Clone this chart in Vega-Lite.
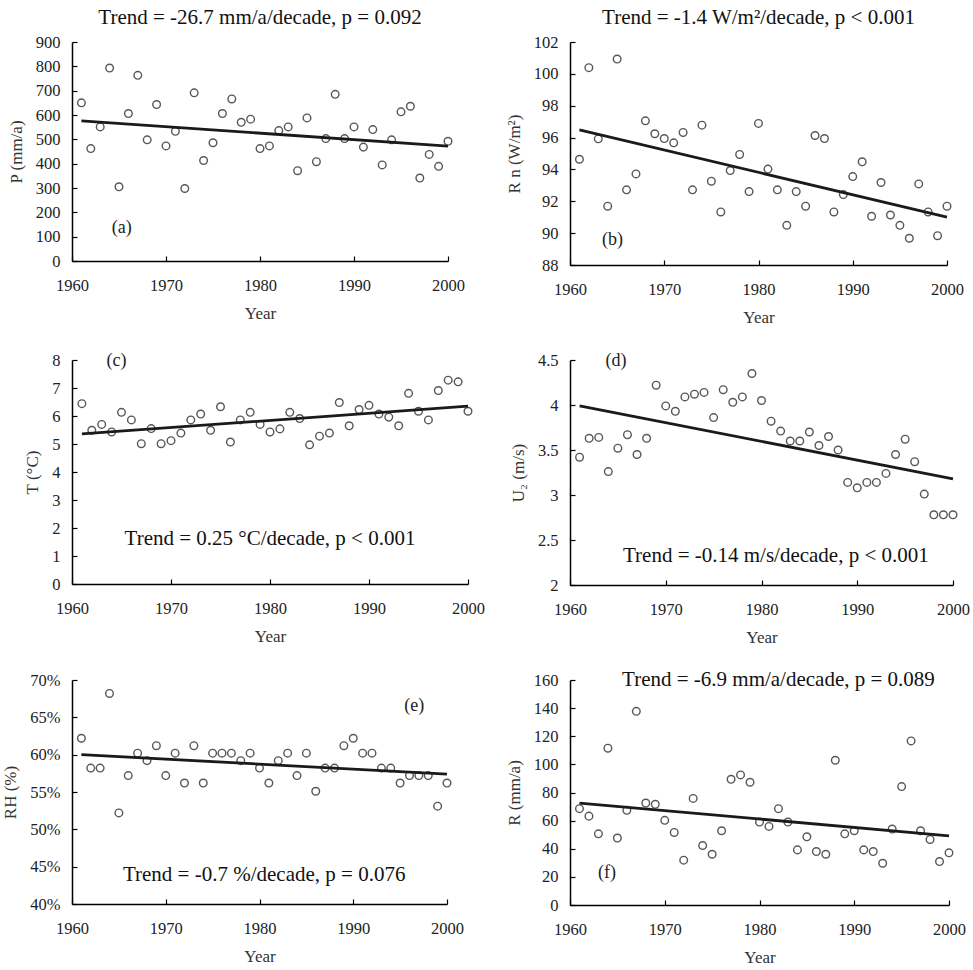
{
"$schema": "https://vega.github.io/schema/vega-lite/v6.json",
"padding": {"left": 1, "top": 7, "right": 0, "bottom": 1},
"background": "white",
"datasets": {
"P": [{"year":1961,"v":650},{"year":1962,"v":462},{"year":1963,"v":551},{"year":1964,"v":793},{"year":1965,"v":305},{"year":1966,"v":606},{"year":1967,"v":763},{"year":1968,"v":498},{"year":1969,"v":643},{"year":1970,"v":473},{"year":1971,"v":533},{"year":1972,"v":298},{"year":1973,"v":691},{"year":1974,"v":413},{"year":1975,"v":486},{"year":1976,"v":606},{"year":1977,"v":666},{"year":1978,"v":570},{"year":1979,"v":583},{"year":1980,"v":462},{"year":1981,"v":473},{"year":1982,"v":536},{"year":1983,"v":551},{"year":1984,"v":371},{"year":1985,"v":588},{"year":1986,"v":408},{"year":1987,"v":503},{"year":1988,"v":685},{"year":1989,"v":503},{"year":1990,"v":551},{"year":1991,"v":468},{"year":1992,"v":540},{"year":1993,"v":395},{"year":1994,"v":498},{"year":1995,"v":613},{"year":1996,"v":636},{"year":1997,"v":341},{"year":1998,"v":438},{"year":1999,"v":389},{"year":2000,"v":492}],
"P_t": [{"year":1961,"v":576},{"year":2000,"v":472}],
"Rn": [{"year":1961,"v":94.64},{"year":1962,"v":100.39},{"year":1963,"v":95.92},{"year":1964,"v":91.69},{"year":1965,"v":100.93},{"year":1966,"v":92.72},{"year":1967,"v":93.72},{"year":1968,"v":97.05},{"year":1969,"v":96.24},{"year":1970,"v":95.94},{"year":1971,"v":95.67},{"year":1972,"v":96.32},{"year":1973,"v":92.72},{"year":1974,"v":96.78},{"year":1975,"v":93.26},{"year":1976,"v":91.33},{"year":1977,"v":93.93},{"year":1978,"v":94.94},{"year":1979,"v":92.61},{"year":1980,"v":96.89},{"year":1981,"v":94.02},{"year":1982,"v":92.72},{"year":1983,"v":90.49},{"year":1984,"v":92.61},{"year":1985,"v":91.69},{"year":1986,"v":96.13},{"year":1987,"v":95.94},{"year":1988,"v":91.33},{"year":1989,"v":92.42},{"year":1990,"v":93.55},{"year":1991,"v":94.48},{"year":1992,"v":91.06},{"year":1993,"v":93.18},{"year":1994,"v":91.14},{"year":1995,"v":90.49},{"year":1996,"v":89.68},{"year":1997,"v":93.09},{"year":1998,"v":91.33},{"year":1999,"v":89.84},{"year":2000,"v":91.69}],
"Rn_t": [{"year":1961,"v":96.49},{"year":2000,"v":91.0}],
"T": [{"year":1961,"v":6.44},{"year":1962,"v":5.49},{"year":1963,"v":5.70},{"year":1964,"v":5.43},{"year":1965,"v":6.13},{"year":1966,"v":5.86},{"year":1967,"v":5.01},{"year":1968,"v":5.55},{"year":1969,"v":5.01},{"year":1970,"v":5.12},{"year":1971,"v":5.39},{"year":1972,"v":5.86},{"year":1973,"v":6.07},{"year":1974,"v":5.49},{"year":1975,"v":6.33},{"year":1976,"v":5.07},{"year":1977,"v":5.86},{"year":1978,"v":6.13},{"year":1979,"v":5.70},{"year":1980,"v":5.43},{"year":1981,"v":5.54},{"year":1982,"v":6.13},{"year":1983,"v":5.91},{"year":1984,"v":4.97},{"year":1985,"v":5.28},{"year":1986,"v":5.39},{"year":1987,"v":6.48},{"year":1988,"v":5.65},{"year":1989,"v":6.23},{"year":1990,"v":6.38},{"year":1991,"v":6.07},{"year":1992,"v":5.96},{"year":1993,"v":5.65},{"year":1994,"v":6.81},{"year":1995,"v":6.17},{"year":1996,"v":5.86},{"year":1997,"v":6.91},{"year":1998,"v":7.28},{"year":1999,"v":7.22},{"year":2000,"v":6.17}],
"T_t": [{"year":1961,"v":5.36},{"year":2000,"v":6.35}],
"U2": [{"year":1961,"v":3.42},{"year":1962,"v":3.63},{"year":1963,"v":3.64},{"year":1964,"v":3.26},{"year":1965,"v":3.52},{"year":1966,"v":3.67},{"year":1967,"v":3.45},{"year":1968,"v":3.63},{"year":1969,"v":4.22},{"year":1970,"v":3.99},{"year":1971,"v":3.93},{"year":1972,"v":4.09},{"year":1973,"v":4.12},{"year":1974,"v":4.14},{"year":1975,"v":3.86},{"year":1976,"v":4.17},{"year":1977,"v":4.03},{"year":1978,"v":4.09},{"year":1979,"v":4.35},{"year":1980,"v":4.05},{"year":1981,"v":3.82},{"year":1982,"v":3.71},{"year":1983,"v":3.60},{"year":1984,"v":3.60},{"year":1985,"v":3.70},{"year":1986,"v":3.55},{"year":1987,"v":3.65},{"year":1988,"v":3.50},{"year":1989,"v":3.14},{"year":1990,"v":3.08},{"year":1991,"v":3.14},{"year":1992,"v":3.14},{"year":1993,"v":3.24},{"year":1994,"v":3.45},{"year":1995,"v":3.62},{"year":1996,"v":3.37},{"year":1997,"v":3.01},{"year":1998,"v":2.78},{"year":1999,"v":2.78},{"year":2000,"v":2.78}],
"U2_t": [{"year":1961,"v":3.99},{"year":2000,"v":3.18}],
"RH": [{"year":1961,"v":0.622},{"year":1962,"v":0.582},{"year":1963,"v":0.582},{"year":1964,"v":0.682},{"year":1965,"v":0.522},{"year":1966,"v":0.572},{"year":1967,"v":0.602},{"year":1968,"v":0.592},{"year":1969,"v":0.612},{"year":1970,"v":0.572},{"year":1971,"v":0.602},{"year":1972,"v":0.562},{"year":1973,"v":0.612},{"year":1974,"v":0.562},{"year":1975,"v":0.602},{"year":1976,"v":0.602},{"year":1977,"v":0.602},{"year":1978,"v":0.592},{"year":1979,"v":0.602},{"year":1980,"v":0.582},{"year":1981,"v":0.562},{"year":1982,"v":0.592},{"year":1983,"v":0.602},{"year":1984,"v":0.572},{"year":1985,"v":0.602},{"year":1986,"v":0.551},{"year":1987,"v":0.582},{"year":1988,"v":0.582},{"year":1989,"v":0.612},{"year":1990,"v":0.622},{"year":1991,"v":0.602},{"year":1992,"v":0.602},{"year":1993,"v":0.582},{"year":1994,"v":0.582},{"year":1995,"v":0.562},{"year":1996,"v":0.572},{"year":1997,"v":0.572},{"year":1998,"v":0.572},{"year":1999,"v":0.531},{"year":2000,"v":0.562}],
"RH_t": [{"year":1961,"v":0.600},{"year":2000,"v":0.574}],
"R": [{"year":1961,"v":68.5},{"year":1962,"v":63.2},{"year":1963,"v":50.6},{"year":1964,"v":111.5},{"year":1965,"v":47.6},{"year":1966,"v":67.3},{"year":1967,"v":137.7},{"year":1968,"v":72.5},{"year":1969,"v":71.6},{"year":1970,"v":60.2},{"year":1971,"v":51.6},{"year":1972,"v":31.9},{"year":1973,"v":75.8},{"year":1974,"v":42.3},{"year":1975,"v":36.1},{"year":1976,"v":52.8},{"year":1977,"v":89.4},{"year":1978,"v":92.5},{"year":1979,"v":87.3},{"year":1980,"v":59.0},{"year":1981,"v":55.9},{"year":1982,"v":68.5},{"year":1983,"v":59.0},{"year":1984,"v":39.2},{"year":1985,"v":48.5},{"year":1986,"v":38.0},{"year":1987,"v":36.1},{"year":1988,"v":102.9},{"year":1989,"v":50.6},{"year":1990,"v":52.8},{"year":1991,"v":39.2},{"year":1992,"v":38.0},{"year":1993,"v":29.7},{"year":1994,"v":54.0},{"year":1995,"v":84.2},{"year":1996,"v":116.7},{"year":1997,"v":52.8},{"year":1998,"v":46.6},{"year":1999,"v":30.9},{"year":2000,"v":37.1}],
"R_t": [{"year":1961,"v":72.5},{"year":2000,"v":49.2}]
},
"columns": 2,
"align": "each",
"bounds": "flush",
"spacing": {"row": 95, "column": 102},
"concat": [
{
 "width": 376, "height": 219,
 "title": {"text": "Trend = -26.7 mm/a/decade, p = 0.092"},
 "layer": [
  {"encoding": {
    "x": {"field": "year", "type": "quantitative", "scale": {"domain": [1960, 2000], "nice": false}, "axis": {"values": [1960,1970,1980,1990,2000], "format": "d", "title": "Year"}},
    "y": {"field": "v", "type": "quantitative", "scale": {"domain": [0, 900], "nice": false, "zero": false}, "axis": {"values": [0,100,200,300,400,500,600,700,800,900], "title": "P (mm/a)"}}},
   "layer": [
    {"data": {"name": "P"}, "mark": {"type": "point"}},
    {"data": {"name": "P_t"}, "mark": {"type": "line", "color": "#1a1a1a", "strokeWidth": 2.8}}
   ]},
  {"data": {"values": [{}]}, "mark": {"type": "text", "text": "(a)", "fontSize": 18, "color": "#222"},
   "encoding": {
    "x": {"datum": 1965.3, "type": "quantitative", "axis": {"values": [1960,1970,1980,1990,2000], "format": "d", "title": "Year"}},
    "y": {"datum": 135, "type": "quantitative", "axis": {"values": [0,100,200,300,400,500,600,700,800,900], "title": "P (mm/a)"}}}}
 ]
},
{
 "width": 377, "height": 223,
 "title": {"text": "Trend = -1.4 W/m²/decade, p < 0.001"},
 "layer": [
  {"encoding": {
    "x": {"field": "year", "type": "quantitative", "scale": {"domain": [1960, 2000], "nice": false}, "axis": {"values": [1960,1970,1980,1990,2000], "format": "d", "title": "Year"}},
    "y": {"field": "v", "type": "quantitative", "scale": {"domain": [88, 102], "nice": false, "zero": false}, "axis": {"values": [88,90,92,94,96,98,100,102], "title": "R n (W/m²)"}}},
   "layer": [
    {"data": {"name": "Rn"}, "mark": {"type": "point"}},
    {"data": {"name": "Rn_t"}, "mark": {"type": "line", "color": "#1a1a1a", "strokeWidth": 2.8}}
   ]},
  {"data": {"values": [{}]}, "mark": {"type": "text", "text": "(b)", "fontSize": 18, "color": "#222"},
   "encoding": {
    "x": {"datum": 1964.5, "type": "quantitative", "axis": {"values": [1960,1970,1980,1990,2000], "format": "d", "title": "Year"}},
    "y": {"datum": 89.6, "type": "quantitative", "axis": {"values": [88,90,92,94,96,98,100,102], "title": "R n (W/m²)"}}}}
 ]
},
{
 "width": 396, "height": 224,
 "layer": [
  {"encoding": {
    "x": {"field": "year", "type": "quantitative", "scale": {"domain": [1960, 2000], "nice": false}, "axis": {"values": [1960,1970,1980,1990,2000], "format": "d", "title": "Year"}},
    "y": {"field": "v", "type": "quantitative", "scale": {"domain": [0, 8], "nice": false, "zero": false}, "axis": {"values": [0,1,2,3,4,5,6,7,8], "title": "T (°C)"}}},
   "layer": [
    {"data": {"name": "T"}, "mark": {"type": "point"}},
    {"data": {"name": "T_t"}, "mark": {"type": "line", "color": "#1a1a1a", "strokeWidth": 2.8}}
   ]},
  {"data": {"values": [{}]}, "mark": {"type": "text", "text": "(c)", "fontSize": 18, "color": "#222"},
   "encoding": {
    "x": {"datum": 1964.5, "type": "quantitative", "axis": {"values": [1960,1970,1980,1990,2000], "format": "d", "title": "Year"}},
    "y": {"datum": 7.95, "type": "quantitative", "axis": {"values": [0,1,2,3,4,5,6,7,8], "title": "T (°C)"}}}},
  {"data": {"values": [{}]}, "mark": {"type": "text", "text": "Trend = 0.25 °C/decade, p < 0.001", "fontSize": 21, "color": "#111"},
   "encoding": {
    "x": {"datum": 1980, "type": "quantitative", "axis": {"values": [1960,1970,1980,1990,2000], "format": "d", "title": "Year"}},
    "y": {"datum": 1.6, "type": "quantitative", "axis": {"values": [0,1,2,3,4,5,6,7,8], "title": "T (°C)"}}}}
 ]
},
{
 "width": 383, "height": 225,
 "layer": [
  {"encoding": {
    "x": {"field": "year", "type": "quantitative", "scale": {"domain": [1960, 2000], "nice": false}, "axis": {"values": [1960,1970,1980,1990,2000], "format": "d", "title": "Year"}},
    "y": {"field": "v", "type": "quantitative", "scale": {"domain": [2, 4.5], "nice": false, "zero": false}, "axis": {"values": [2,2.5,3,3.5,4,4.5], "format": "~g", "title": "U₂ (m/s)"}}},
   "layer": [
    {"data": {"name": "U2"}, "mark": {"type": "point"}},
    {"data": {"name": "U2_t"}, "mark": {"type": "line", "color": "#1a1a1a", "strokeWidth": 2.8}}
   ]},
  {"data": {"values": [{}]}, "mark": {"type": "text", "text": "(d)", "fontSize": 18, "color": "#222"},
   "encoding": {
    "x": {"datum": 1964.8, "type": "quantitative", "axis": {"values": [1960,1970,1980,1990,2000], "format": "d", "title": "Year"}},
    "y": {"datum": 4.49, "type": "quantitative", "axis": {"values": [2,2.5,3,3.5,4,4.5], "format": "~g", "title": "U₂ (m/s)"}}}},
  {"data": {"values": [{}]}, "mark": {"type": "text", "text": "Trend = -0.14 m/s/decade, p < 0.001", "fontSize": 21, "color": "#111"},
   "encoding": {
    "x": {"datum": 1981.5, "type": "quantitative", "axis": {"values": [1960,1970,1980,1990,2000], "format": "d", "title": "Year"}},
    "y": {"datum": 2.32, "type": "quantitative", "axis": {"values": [2,2.5,3,3.5,4,4.5], "format": "~g", "title": "U₂ (m/s)"}}}}
 ]
},
{
 "width": 375, "height": 224,
 "layer": [
  {"encoding": {
    "x": {"field": "year", "type": "quantitative", "scale": {"domain": [1960, 2000], "nice": false}, "axis": {"values": [1960,1970,1980,1990,2000], "format": "d", "title": "Year"}},
    "y": {"field": "v", "type": "quantitative", "scale": {"domain": [0.4, 0.7], "nice": false, "zero": false}, "axis": {"values": [0.4,0.45,0.5,0.55,0.6,0.65,0.7], "format": ".0%", "title": "RH (%)"}}},
   "layer": [
    {"data": {"name": "RH"}, "mark": {"type": "point"}},
    {"data": {"name": "RH_t"}, "mark": {"type": "line", "color": "#1a1a1a", "strokeWidth": 2.8}}
   ]},
  {"data": {"values": [{}]}, "mark": {"type": "text", "text": "(e)", "fontSize": 18, "color": "#222"},
   "encoding": {
    "x": {"datum": 1996.5, "type": "quantitative", "axis": {"values": [1960,1970,1980,1990,2000], "format": "d", "title": "Year"}},
    "y": {"datum": 0.665, "type": "quantitative", "axis": {"values": [0.4,0.45,0.5,0.55,0.6,0.65,0.7], "format": ".0%", "title": "RH (%)"}}}},
  {"data": {"values": [{}]}, "mark": {"type": "text", "text": "Trend = -0.7 %/decade, p = 0.076", "fontSize": 21, "color": "#111"},
   "encoding": {
    "x": {"datum": 1980.5, "type": "quantitative", "axis": {"values": [1960,1970,1980,1990,2000], "format": "d", "title": "Year"}},
    "y": {"datum": 0.439, "type": "quantitative", "axis": {"values": [0.4,0.45,0.5,0.55,0.6,0.65,0.7], "format": ".0%", "title": "RH (%)"}}}}
 ]
},
{
 "width": 379, "height": 225,
 "layer": [
  {"encoding": {
    "x": {"field": "year", "type": "quantitative", "scale": {"domain": [1960, 2000], "nice": false}, "axis": {"values": [1960,1970,1980,1990,2000], "format": "d", "title": "Year"}},
    "y": {"field": "v", "type": "quantitative", "scale": {"domain": [0, 160], "nice": false, "zero": false}, "axis": {"values": [0,20,40,60,80,100,120,140,160], "title": "R (mm/a)"}}},
   "layer": [
    {"data": {"name": "R"}, "mark": {"type": "point"}},
    {"data": {"name": "R_t"}, "mark": {"type": "line", "color": "#1a1a1a", "strokeWidth": 2.8}}
   ]},
  {"data": {"values": [{}]}, "mark": {"type": "text", "text": "(f)", "fontSize": 18, "color": "#222"},
   "encoding": {
    "x": {"datum": 1963.9, "type": "quantitative", "axis": {"values": [1960,1970,1980,1990,2000], "format": "d", "title": "Year"}},
    "y": {"datum": 22.8, "type": "quantitative", "axis": {"values": [0,20,40,60,80,100,120,140,160], "title": "R (mm/a)"}}}},
  {"data": {"values": [{}]}, "mark": {"type": "text", "text": "Trend = -6.9 mm/a/decade, p = 0.089", "fontSize": 21, "color": "#111"},
   "encoding": {
    "x": {"datum": 1982, "type": "quantitative", "axis": {"values": [1960,1970,1980,1990,2000], "format": "d", "title": "Year"}},
    "y": {"datum": 160, "type": "quantitative", "axis": {"values": [0,20,40,60,80,100,120,140,160], "title": "R (mm/a)"}}}}
 ]
}
],
"config": {
 "view": {"stroke": null},
 "font": "Liberation Serif",
 "axis": {"grid": false, "labelFlush": false, "labelOverlap": false, "labelBound": false, "domainColor": "#000", "domainWidth": 1.5, "tickColor": "#000", "tickSize": -5, "tickWidth": 1.2, "labelFont": "Liberation Serif", "labelFontSize": 16.5, "labelColor": "#222", "titleFont": "Liberation Serif", "titleFontSize": 17, "titleFontWeight": "normal", "titleColor": "#333"},
 "axisX": {"titlePadding": 12, "labelPadding": 21},
 "axisY": {"titlePadding": 10, "labelPadding": 17},
 "title": {"font": "Liberation Serif", "fontSize": 21, "fontWeight": "normal", "color": "#111", "offset": 6},
 "text": {"font": "Liberation Serif"},
 "point": {"shape": "circle", "filled": false, "stroke": "#111", "strokeWidth": 1.4, "size": 58}
}
}
